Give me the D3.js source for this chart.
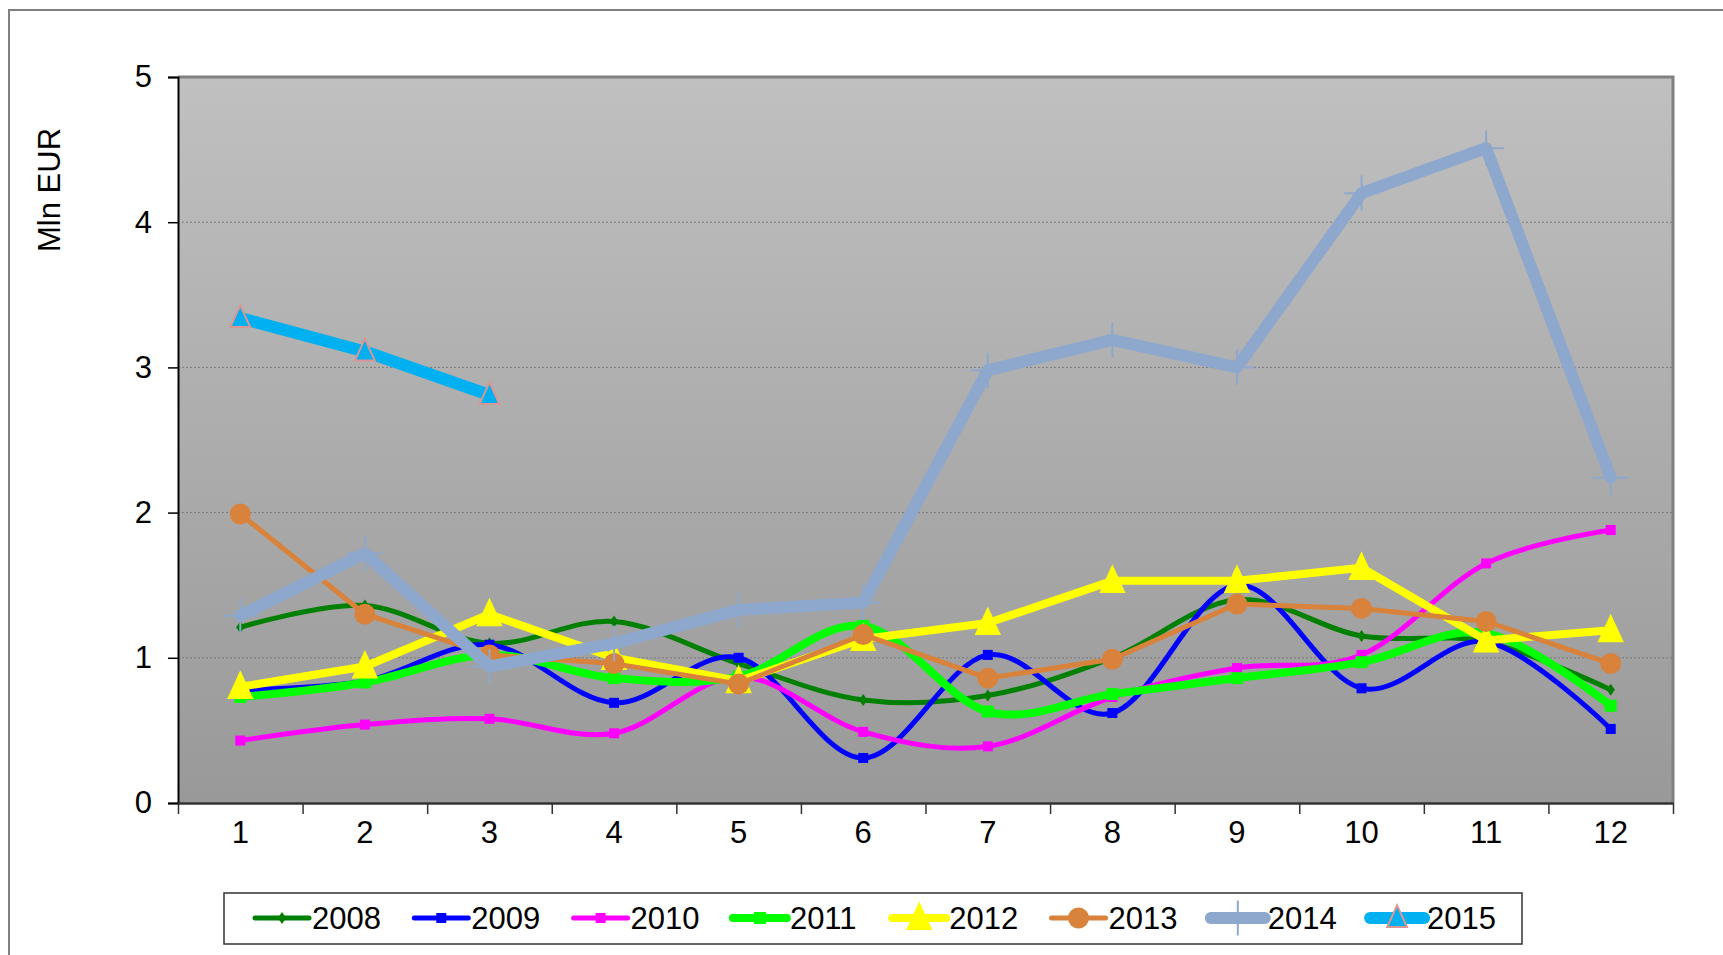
<!DOCTYPE html>
<html>
<head>
<meta charset="utf-8">
<script src="https://cdn.jsdelivr.net/npm/d3@7"></script>
<style>
  html, body { margin: 0; padding: 0; background: #fff; }
  svg { display: block; font-family: "Liberation Sans", Arial, sans-serif; }
</style>
</head>
<body>
<svg id="chart" width="1723" height="955"></svg>
<script>
// months on the x axis
const months = [1, 2, 3, 4, 5, 6, 7, 8, 9, 10, 11, 12];
const yTicks = [0, 1, 2, 3, 4, 5];

// values per year, Mln EUR
const v2008 = [1.21, 1.36, 1.10, 1.25, 0.96, 0.71, 0.74, 1.00, 1.40, 1.15, 1.11, 0.78];
const v2009 = [0.78, 0.84, 1.09, 0.69, 1.00, 0.31, 1.02, 0.62, 1.50, 0.79, 1.11, 0.51];
const v2010 = [0.43, 0.54, 0.58, 0.48, 0.87, 0.49, 0.39, 0.73, 0.93, 1.02, 1.65, 1.88];
const v2011 = [0.73, 0.83, 1.02, 0.86, 0.87, 1.22, 0.63, 0.75, 0.86, 0.97, 1.17, 0.67];
const v2012 = [0.80, 0.94, 1.30, 1.00, 0.84, 1.13, 1.24, 1.53, 1.53, 1.62, 1.12, 1.19];
const v2013 = [1.99, 1.30, 1.02, 0.96, 0.82, 1.16, 0.86, 0.99, 1.37, 1.34, 1.25, 0.96];
const v2014 = [1.29, 1.72, 0.94, 1.10, 1.33, 1.38, 2.98, 3.19, 3.00, 4.20, 4.51, 2.24];
const v2015 = [3.34, 3.11, 2.81];

const series = [
  { name: '2008', values: v2008, color: '#008000', width: 5, smooth: true, marker: 'diamond', size: 6 },
  { name: '2009', values: v2009, color: '#0000ff', width: 5, smooth: true, marker: 'square', size: 10 },
  { name: '2010', values: v2010, color: '#ff00ff', width: 5, smooth: true, marker: 'square', size: 10 },
  { name: '2011', values: v2011, color: '#00ff00', width: 8, smooth: true, marker: 'square', size: 12 },
  { name: '2012', values: v2012, color: '#ffff00', width: 8, smooth: false, marker: 'triangle', size: 22 },
  { name: '2013', values: v2013, color: '#d9823b', width: 5, smooth: false, marker: 'circle', size: 10.5 },
  { name: '2014', values: v2014, color: '#8ea8cd', width: 12, smooth: false, marker: 'plus', size: 11 },
  { name: '2015', values: v2015, color: '#00b0f0', width: 12, smooth: false, marker: 'triangle2', size: 18 }
];

const svg = d3.select('#chart');
const W = 1723, H = 955;
const plot = { left: 178, right: 1673, top: 77, bottom: 803 };
const FONT = '"Liberation Sans", Arial, sans-serif';

// outer frame
svg.append('rect')
  .attr('x', 9).attr('y', 10)
  .attr('width', W + 20).attr('height', H + 20)
  .attr('fill', '#fff').attr('stroke', '#808080').attr('stroke-width', 2);

const x = d3.scaleBand().domain(months).range([plot.left, plot.right]).padding(0);
const xEdge = d3.scaleLinear().domain([0, 12]).range([plot.left, plot.right]);
const y = d3.scaleLinear().domain([0, 5]).range([plot.bottom, plot.top]);
const cx = m => x(m) + x.bandwidth() / 2;

// plot background
const defs = svg.append('defs');
const grad = defs.append('linearGradient').attr('id', 'bg').attr('x1', 0).attr('y1', 0).attr('x2', 0).attr('y2', 1);
grad.append('stop').attr('offset', '0%').attr('stop-color', '#c0c0c0');
grad.append('stop').attr('offset', '100%').attr('stop-color', '#999999');

svg.append('rect')
  .attr('x', plot.left).attr('y', plot.top)
  .attr('width', plot.right - plot.left).attr('height', plot.bottom - plot.top)
  .attr('fill', 'url(#bg)');

// top & right border
svg.append('path')
  .attr('d', `M${plot.left},${plot.top}H${plot.right}V${plot.bottom}`)
  .attr('fill', 'none').attr('stroke', '#808080').attr('stroke-width', 3);

// gridlines
svg.append('g')
  .selectAll('line')
  .data(yTicks.filter(t => t > 0 && t < 5))
  .enter()
  .append('line')
  .attr('x1', plot.left).attr('x2', plot.right)
  .attr('y1', d => y(d)).attr('y2', d => y(d))
  .attr('stroke', '#7a7a7a').attr('stroke-width', 1).attr('stroke-dasharray', '2,2');

// y axis
const yAxis = svg.append('g')
  .attr('transform', `translate(${plot.left},0)`)
  .call(d3.axisLeft(y).tickValues(yTicks).tickFormat(d3.format('d')).tickSize(10).tickPadding(16));
yAxis.select('.domain').attr('stroke', '#000').attr('stroke-width', 2);
yAxis.selectAll('.tick line').attr('stroke', '#000').attr('stroke-width', 1.5);
yAxis.selectAll('text').attr('font-size', 31).attr('fill', '#000').attr('font-family', FONT);

// x axis: boundary ticks
const xTickAxis = svg.append('g')
  .attr('transform', `translate(0,${plot.bottom})`)
  .call(d3.axisBottom(xEdge).tickValues(d3.range(0, 13)).tickFormat('').tickSize(11).tickSizeOuter(0));
xTickAxis.select('.domain').attr('stroke', '#333').attr('stroke-width', 2.5);
xTickAxis.selectAll('.tick line').attr('stroke', '#333').attr('stroke-width', 1.5);

// x axis labels
const xAxis = svg.append('g')
  .attr('transform', `translate(0,${plot.bottom})`)
  .call(d3.axisBottom(x).tickSize(0).tickPadding(18));
xAxis.select('.domain').remove();
xAxis.selectAll('text').attr('font-size', 31).attr('fill', '#000').attr('font-family', FONT);

// y axis title
svg.append('text')
  .attr('transform', 'translate(60,190) rotate(-90)')
  .attr('text-anchor', 'middle')
  .attr('font-size', 31)
  .text('Mln EUR');

// marker drawing
function drawMarker(g, s, px, py) {
  const r = s.size;
  if (s.marker === 'diamond') {
    g.append('path').attr('d', `M${px},${py - r}L${px + r * 0.7},${py}L${px},${py + r}L${px - r * 0.7},${py}Z`)
      .attr('fill', s.color);
  } else if (s.marker === 'square') {
    g.append('rect').attr('x', px - r / 2).attr('y', py - r / 2).attr('width', r).attr('height', r)
      .attr('fill', s.color);
  } else if (s.marker === 'triangle') {
    g.append('path').attr('d', `M${px},${py - r * 0.75}L${px + r * 0.6},${py + r * 0.55}L${px - r * 0.6},${py + r * 0.55}Z`)
      .attr('fill', s.color);
  } else if (s.marker === 'triangle2') {
    g.append('path').attr('d', `M${px},${py - r * 0.7}L${px + r * 0.55},${py + r * 0.5}L${px - r * 0.55},${py + r * 0.5}Z`)
      .attr('fill', s.color).attr('stroke', '#d99694').attr('stroke-width', 2);
  } else if (s.marker === 'circle') {
    g.append('circle').attr('cx', px).attr('cy', py).attr('r', r).attr('fill', s.color);
  } else if (s.marker === 'plus') {
    g.append('path').attr('d', `M${px - r * 1.6},${py}H${px + r * 1.6}M${px},${py - r * 1.6}V${py + r * 1.6}`)
      .attr('stroke', s.color).attr('stroke-width', 2).attr('fill', 'none');
  }
}

// series
series.forEach(s => {
  const g = svg.append('g');
  const line = d3.line()
    .x((d, i) => cx(months[i]))
    .y(d => y(d))
    .curve(s.smooth ? d3.curveCatmullRom.alpha(0) : d3.curveLinear);
  g.append('path')
    .datum(s.values)
    .attr('d', line)
    .attr('fill', 'none')
    .attr('stroke', s.color)
    .attr('stroke-width', s.width)
    .attr('stroke-linejoin', 'round')
    .attr('stroke-linecap', 'round');
  s.values.forEach((v, i) => drawMarker(g, s, cx(months[i]), y(v)));
});

// legend
const legend = svg.append('g');
legend.append('rect')
  .attr('x', 224).attr('y', 893).attr('width', 1298).attr('height', 51)
  .attr('fill', '#fff').attr('stroke', '#333').attr('stroke-width', 1.5);

series.forEach((s, i) => {
  const lx = 255 + i * 159.3;
  const ly = 918;
  const g = legend.append('g');
  g.append('line')
    .attr('x1', lx).attr('x2', lx + 54)
    .attr('y1', ly).attr('y2', ly)
    .attr('stroke', s.color).attr('stroke-width', s.width)
    .attr('stroke-linecap', 'round');
  drawMarker(g, s, lx + 27, ly);
  g.append('text')
    .attr('x', lx + 57).attr('y', ly + 11)
    .attr('font-size', 31)
    .text(s.name);
});
</script>
</body>
</html>
